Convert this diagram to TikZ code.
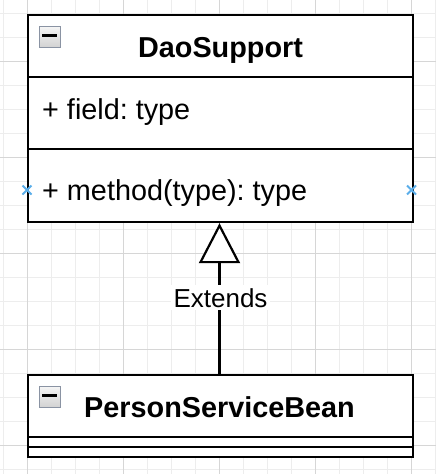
\documentclass[tikz,border=0pt]{standalone}
\usepackage{fontspec}
\setmainfont{Liberation Sans}
\usetikzlibrary{arrows.meta}
\definecolor{minorgrid}{HTML}{EDEDED}
\definecolor{majorgrid}{HTML}{D6D6D6}
\definecolor{markblue}{HTML}{5AAEEA}
\definecolor{iconborder}{HTML}{8A93A3}
\frenchspacing
\begin{document}
\begin{tikzpicture}[x=1pt,y=-1pt,
  gridminor/.style={draw=minorgrid,line width=1pt},
  gridmajor/.style={draw=majorgrid,line width=1pt},
  classbox/.style={draw=black,line width=2.2pt,fill=white,rectangle,inner sep=0pt,anchor=north west},
  sepline/.style={draw=black,line width=2.2pt},
  titletext/.style={font=\bfseries\fontsize{28.8}{34}\selectfont,inner sep=0pt,anchor=base},
  membertext/.style={font=\fontsize{28.8}{34}\selectfont,inner sep=0pt,anchor=base west},
  labeltext/.style={font=\fontsize{26}{30}\selectfont,fill=white,inner sep=3pt,anchor=base},
  minusicon/.style={draw=iconborder,line width=1.5pt,top color=gray!8,bottom color=gray!35,minimum size=21pt,inner sep=0pt,anchor=north west},
  connmark/.style={draw=markblue,line width=1.8pt},
  extendsline/.style={draw=black,line width=2.2pt,-{Triangle[open,length=40pt,width=41pt,fill=white]}},
]
\useasboundingbox (0,0) rectangle (436,474);
\fill[white] (0,0) rectangle (436,474);
% grid
\foreach \x in {3,27,...,435} \draw[gridminor] (\x,0) -- (\x,474);
\foreach \y in {13,37,...,469} \draw[gridminor] (0,\y) -- (436,\y);
\foreach \x in {27,123,219,315,411} \draw[gridmajor] (\x,0) -- (\x,474);
\foreach \y in {61,157,253,349,445} \draw[gridmajor] (0,\y) -- (436,\y);

% DaoSupport class
\node[classbox,minimum width=384.5pt,minimum height=207pt] (dao) at (27,14) {};
\draw[sepline] (27,77) -- (411.5,77);
\draw[sepline] (27,149) -- (411.5,149);
\node[minusicon] (daoicon) at (38.5,25.5) {};
\fill[black] (42,33.5) rectangle (56.5,36.5);
\node[titletext] (daotitle) at (220.5,57) {DaoSupport};
\node[membertext] (daofield) at (42,119) {+ field: type};
\node[membertext] (daomethod) at (42,200) {+ method(type): type};
\draw[connmark] (22.5,185.5) -- (31.5,194.5) (22.5,194.5) -- (31.5,185.5);
\draw[connmark] (407,185.5) -- (416,194.5) (407,194.5) -- (416,185.5);

% PersonServiceBean class
\node[classbox,minimum width=384.5pt,minimum height=82pt] (psb) at (27,374) {};
\draw[sepline] (27,437) -- (411.5,437);
\draw[sepline] (27,447) -- (411.5,447);
\node[minusicon] (psbicon) at (38.5,385.5) {};
\fill[black] (42,393.5) rectangle (56.5,396.5);
\node[titletext] (psbtitle) at (219.5,417) {PersonServiceBean};

% generalization
\draw[extendsline] (psb.north -| 219.5,0) -- (dao.south -| 219.5,0);
\node[labeltext] (extlabel) at (220.5,307) {Extends};
\end{tikzpicture}
\end{document}
